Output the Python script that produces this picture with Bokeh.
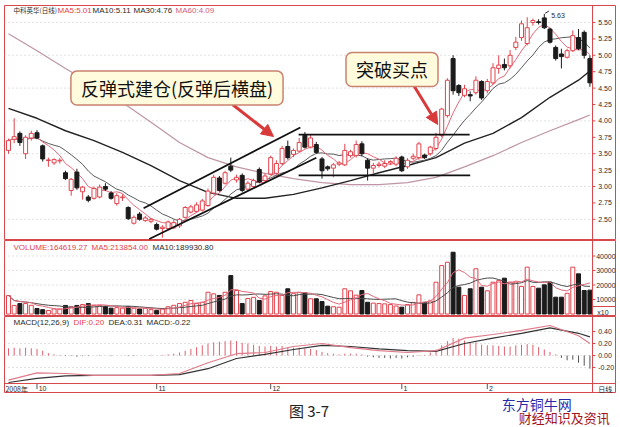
import numpy as np
import pandas as pd
from bokeh.plotting import figure
from bokeh.layouts import column
from bokeh.models import Range1d, ColumnDataSource, Label, Arrow, NormalHead, Span
from bokeh.core.properties import value
from bokeh.embed import file_html
from bokeh.resources import INLINE

# ---------------- daily bars: 中科英华, late Sep 2008 - Feb 2009 ----------------
opens = [3.55, 3.72, 3.81, 3.50, 3.74, 3.82, 3.62, 3.40, 3.36, 3.39,
         3.21, 2.94, 3.22, 2.92, 2.84, 2.82, 2.84, 3.00, 2.90, 2.74,
         2.83, 2.68, 2.44, 2.58, 2.48, 2.47, 2.42, 2.36, 2.36, 2.37,
         2.40, 2.53, 2.61, 2.62, 2.64, 2.71, 2.90, 3.13, 3.05, 3.31,
         3.10, 3.17, 2.96, 3.00, 3.26, 3.09, 3.19, 3.20, 3.35, 3.61,
         3.49, 3.54, 3.78, 3.60, 3.64, 3.42, 3.30, 3.28, 3.34, 3.33,
         3.47, 3.47, 3.65, 3.40, 3.28, 3.32, 3.31, 3.36, 3.34, 3.45,
         3.30, 3.43, 3.44, 3.48, 3.50, 3.58, 3.78, 4.08, 4.95, 4.54,
         4.39, 4.40, 4.43, 4.60, 4.46, 4.58, 4.80, 4.86, 4.84, 5.12,
         5.27, 5.18, 5.50, 5.51, 5.57, 5.40, 5.12, 5.02, 4.97, 5.07,
         5.27, 5.35, 4.95]
highs = [3.73, 4.04, 3.84, 3.78, 3.85, 3.86, 3.64, 3.44, 3.43, 3.43,
         3.24, 3.13, 3.27, 3.01, 2.87, 3.00, 3.03, 3.05, 2.93, 2.90,
         2.88, 2.70, 2.56, 2.61, 2.55, 2.52, 2.45, 2.41, 2.48, 2.49,
         2.52, 2.70, 2.72, 2.76, 2.81, 2.97, 3.18, 3.16, 3.24, 3.44,
         3.18, 3.20, 3.08, 3.12, 3.29, 3.20, 3.47, 3.40, 3.62, 3.70,
         3.58, 3.74, 3.83, 3.80, 3.68, 3.45, 3.32, 3.36, 3.39, 3.65,
         3.56, 3.70, 3.69, 3.43, 3.36, 3.38, 3.40, 3.40, 3.46, 3.47,
         3.43, 3.50, 3.68, 3.50, 3.62, 3.82, 4.20, 4.65, 5.00, 4.56,
         4.55, 4.45, 4.68, 4.62, 4.64, 4.88, 5.00, 4.95, 5.08, 5.28,
         5.53, 5.58, 5.56, 5.55, 5.63, 5.42, 5.15, 5.10, 5.10, 5.38,
         5.40, 5.38, 5.00]
lows = [3.50, 3.66, 3.62, 3.42, 3.70, 3.72, 3.38, 3.30, 3.33, 3.35,
        3.10, 2.86, 2.95, 2.80, 2.76, 2.80, 2.82, 2.93, 2.80, 2.71,
        2.78, 2.49, 2.42, 2.48, 2.46, 2.44, 2.33, 2.22, 2.33, 2.35,
        2.37, 2.51, 2.59, 2.60, 2.62, 2.69, 2.88, 2.92, 3.03, 3.22,
        3.06, 2.91, 2.93, 2.98, 3.05, 3.06, 3.17, 3.18, 3.32, 3.41,
        3.45, 3.52, 3.58, 3.58, 3.50, 3.12, 3.24, 3.14, 3.31, 3.31,
        3.44, 3.44, 3.46, 3.09, 3.20, 3.29, 3.28, 3.33, 3.31, 3.22,
        3.27, 3.40, 3.41, 3.42, 3.47, 3.55, 3.75, 4.05, 4.40, 4.38,
        4.36, 4.30, 4.40, 4.32, 4.42, 4.55, 4.72, 4.77, 4.80, 5.08,
        5.22, 5.15, 5.45, 5.47, 5.40, 5.18, 4.92, 4.80, 4.95, 5.05,
        5.08, 4.95, 4.52]
closes = [3.70, 3.76, 3.67, 3.75, 3.81, 3.74, 3.42, 3.40, 3.41, 3.40,
          3.12, 3.11, 2.98, 2.99, 2.79, 2.97, 2.99, 2.96, 2.82, 2.86,
          2.84, 2.51, 2.53, 2.50, 2.52, 2.50, 2.35, 2.38, 2.46, 2.45,
          2.50, 2.68, 2.69, 2.72, 2.78, 2.93, 3.14, 2.94, 3.21, 3.25,
          3.14, 2.94, 3.05, 3.09, 3.07, 3.16, 3.44, 3.35, 3.58, 3.44,
          3.55, 3.67, 3.60, 3.74, 3.52, 3.24, 3.27, 3.33, 3.36, 3.55,
          3.53, 3.64, 3.50, 3.28, 3.32, 3.34, 3.35, 3.38, 3.43, 3.24,
          3.40, 3.46, 3.65, 3.44, 3.60, 3.75, 4.18, 4.62, 4.46, 4.43,
          4.49, 4.38, 4.62, 4.35, 4.60, 4.81, 4.85, 4.81, 5.00, 5.20,
          5.48, 5.42, 5.53, 5.50, 5.42, 5.20, 4.95, 4.98, 5.07, 5.30,
          5.10, 5.00, 4.58]
# traded volume in lots
volumes = [127000, 59000, 72000, 72000, 60000, 38000, 30000, 24000, 35000, 35000,
           59000, 50000, 59000, 65000, 72000, 60000, 60000, 52000, 40000, 44000,
           40000, 50000, 40000, 35000, 40000, 30000, 25000, 35000, 50000, 60000,
           72000, 81000, 93000, 72000, 81000, 150000, 139000, 128000, 150000, 265000,
           162000, 72000, 107000, 115000, 93000, 125000, 155000, 150000, 128000, 174000,
           140000, 150000, 146000, 105000, 105000, 86000, 54000, 50000, 47000, 174000,
           160000, 130000, 162000, 81000, 75000, 72000, 70000, 65000, 55000, 47000,
           65000, 80000, 132000, 81000, 90000, 219000, 334000, 357000, 426000, 185000,
           128000, 174000, 312000, 185000, 160000, 219000, 230000, 247000, 220000, 220000,
           190000, 323000, 190000, 178038, 201000, 219000, 116000, 116000, 142650.73, 323000,
           277000, 162000, 164619.27]

# long moving averages (their windows reach back before the first bar shown)
ma_idx = [0, 5, 10, 15, 20, 25, 30, 35, 40, 45, 50, 55, 60, 65, 70, 75, 80, 85, 90, 95, 100, 102]
ma30 = [4.19, 4.04, 3.85, 3.70, 3.52, 3.32, 3.09, 2.91, 2.82, 2.82, 2.88,
        2.98, 3.09, 3.21, 3.32, 3.44, 3.66, 3.81, 4.05, 4.36, 4.62, 4.76]
ma60 = [5.33, 5.07, 4.80, 4.54, 4.28, 3.98, 3.67, 3.44, 3.30, 3.20, 3.12,
        3.06, 3.03, 3.03, 3.06, 3.14, 3.30, 3.47, 3.67, 3.85, 4.02, 4.09]

# MACD(12,26,9)
dif = [-0.41, -0.29, -0.30, -0.33, -0.33, -0.33, -0.30, -0.12, 0.03, 0.05, 0.15,
       0.20, 0.13, 0.08, 0.05, 0.08, 0.29, 0.35, 0.42, 0.50, 0.33, 0.20]
dea = [-0.45, -0.38, -0.34, -0.33, -0.33, -0.33, -0.32, -0.22, -0.05, 0.02, 0.10,
       0.17, 0.15, 0.11, 0.08, 0.07, 0.20, 0.29, 0.37, 0.46, 0.37, 0.31]
macd_hist = [0.12, 0.13, 0.12, 0.13, 0.12, 0.11, 0.08, 0.04, 0.02, 0.01,
             -0.01, -0.01, -0.02, -0.01, -0.01, 0.00, 0.01, 0.00, -0.01, 0.00,
             0.00, -0.01, -0.01, 0.00, 0.00, 0.01, 0.00, 0.01, 0.02, 0.03,
             0.05, 0.08, 0.11, 0.14, 0.17, 0.20, 0.22, 0.23, 0.24, 0.25,
             0.24, 0.21, 0.20, 0.18, 0.16, 0.15, 0.16, 0.15, 0.16, 0.14,
             0.13, 0.13, 0.12, 0.11, 0.09, 0.06, 0.04, 0.03, 0.02, 0.03,
             0.03, 0.03, 0.02, -0.02, -0.03, -0.04, -0.04, -0.05, -0.04, -0.05,
             -0.03, -0.02, 0.01, 0.01, 0.05, 0.10, 0.17, 0.24, 0.29, 0.28,
             0.25, 0.21, 0.22, 0.18, 0.17, 0.17, 0.16, 0.15, 0.15, 0.17,
             0.18, 0.19, 0.18, 0.14, 0.10, 0.06, 0.02, -0.04, -0.08, -0.07,
             -0.12, -0.17, -0.22]

price_ticks = [2.50, 2.75, 3.00, 3.25, 3.50, 3.75, 4.00, 4.25, 4.50, 4.75, 5.00, 5.25, 5.50]
price_grid = [2.5, 3.0, 3.5, 4.0, 4.5, 5.0, 5.5]
vol_ticks = [10000, 20000, 30000, 40000]          # axis shown in units of 10 lots
macd_ticks = [-0.20, 0.00, 0.20, 0.40]
month_start = [5, 26, 46, 69, 84]
month_labels = ["10", "11", "12", "1", "2"]

# hand-drawn study lines (bar index, price)
chan_up_x, chan_up_y = [23.7, 51.2], [2.67, 3.90]
chan_lo_x, chan_lo_y = [24.7, 54.0], [2.20, 3.44]
range_top_x, range_top_y = [50.9, 80.9], [3.79, 3.79]
range_bot_x, range_bot_y = [50.9, 81.0], [3.17, 3.17]

# ---------------- derived series ----------------
n = len(closes)
df = pd.DataFrame(dict(idx=np.arange(n), open=opens, high=highs, low=lows,
                       close=closes, vol=volumes))
df["top"] = df[["open", "close"]].max(axis=1)
df["bot"] = df[["open", "close"]].min(axis=1)
df["up"] = df["close"] >= df["open"]
df["vol10"] = df["vol"] / 10.0
ma5 = df["close"].rolling(5, min_periods=1).mean()
ma10 = df["close"].rolling(10, min_periods=1).mean()
vma5 = df["vol"].rolling(5, min_periods=1).mean()
vma10 = df["vol"].rolling(10, min_periods=1).mean()

up_src = ColumnDataSource(df[df["up"]])
dn_src = ColumnDataSource(df[~df["up"]])

RED = "#e2434c"
DARK = "#1b1b1b"
FRAME = "#d8474c"
GRID = "#c4c4c4"
TXT = "#2a2a2a"
LAT = value("Liberation Sans")
CJK = value("Noto Sans CJK SC")

XR = Range1d(-0.70, 106.49)
DIV = 102.46          # divider between plot area and scale column
LBL_X = 103.45


def panel(height, y_range, top=0):
    f = figure(width=620, height=height, x_range=XR, y_range=y_range,
               x_axis_type=None, y_axis_type=None, toolbar_location=None,
               output_backend="svg", min_border_left=4, min_border_right=5,
               min_border_top=top, min_border_bottom=0,
               outline_line_color=FRAME, outline_line_width=1,
               background_fill_color="white", border_fill_color="white")
    f.add_layout(Span(location=DIV, dimension="height", line_color=FRAME, line_width=1))
    return f


def header(f, xs, y, texts, colors, size="8px"):
    src = ColumnDataSource(dict(x=xs, y=[y] * len(xs), t=texts, c=colors))
    f.text(x="x", y="y", text="t", text_color="c", source=src, text_font=LAT,
           text_font_size=size, text_align="left", text_baseline="middle")


def scale(f, ticks, labels, x=LBL_X, size="7px"):
    k = len(ticks)
    f.segment(x0=[DIV] * k, y0=ticks, x1=[DIV + 0.5] * k, y1=ticks, line_color=FRAME)
    f.text(x=[x] * k, y=ticks, text=labels, text_font=LAT, text_font_size=size,
           text_color=TXT, text_align="left", text_baseline="middle")


def candles(f):
    # wicks: hollow up-bars keep the wick outside the body
    f.segment(x0="idx", y0="high", x1="idx", y1="top", source=up_src, line_color=RED)
    f.segment(x0="idx", y0="bot", x1="idx", y1="low", source=up_src, line_color=RED)
    f.segment(x0="idx", y0="high", x1="idx", y1="low", source=dn_src, line_color=DARK)
    f.vbar(x="idx", width=0.7, top="top", bottom="bot", source=up_src,
           fill_color="white", line_color=RED, line_width=1)
    f.vbar(x="idx", width=0.7, top="top", bottom="bot", source=dn_src,
           fill_color=DARK, line_color=DARK, line_width=1)
    doji = df[(df["top"] - df["bot"]) < 0.005]
    f.segment(x0=doji["idx"] - 0.35, y0=doji["close"], x1=doji["idx"] + 0.35,
              y1=doji["close"], line_color=RED)


# ---------------- price panel ----------------
pp = panel(240, Range1d(2.177, 5.759), top=5)
kg = len(price_grid)
pp.segment(x0=[XR.start] * kg, y0=price_grid, x1=[DIV] * kg, y1=price_grid,
           line_color=GRID, line_dash="1 3")
pp.line(ma_idx, ma60, line_color="#bf95a6", line_width=1.2)
pp.line(ma_idx, ma30, line_color="#222222", line_width=1.4)
pp.line(df["idx"], ma10, line_color="#5a5a5a", line_width=1)
pp.line(df["idx"], ma5, line_color="#e2687a", line_width=1)
candles(pp)

pp.line(chan_up_x, chan_up_y, line_color="#111111", line_width=1.7)
pp.line(chan_lo_x, chan_lo_y, line_color="#111111", line_width=1.7)
pp.line(range_top_x, range_top_y, line_color="#111111", line_width=1.7)
pp.line(range_bot_x, range_bot_y, line_color="#111111", line_width=1.7)

scale(pp, price_ticks, [f"{v:.2f}" for v in price_ticks])

# highest price marker
hi_i = int(np.argmax(highs))
pp.line([hi_i + 0.15, hi_i + 0.8], [highs[hi_i] + 0.01, highs[hi_i] + 0.045],
        line_color=TXT, line_width=1)
pp.text(x=[hi_i + 1.2], y=[highs[hi_i] - 0.02], text=[f"{highs[hi_i]:.2f}"],
        text_font=LAT, text_font_size="7px", text_color=TXT, text_baseline="middle")

pp.text(x=[0.88], y=[5.683], text=["中科英华(日线)"], text_font=CJK,
        text_font_size="6.5px", text_color=TXT, text_baseline="middle")
header(pp, [8.6, 14.74, 21.93, 29.3], 5.683,
       [f"MA5:{ma5.iloc[-1]:.2f}", f"MA10:{ma10.iloc[-1]:.2f}",
        f"MA30:{ma30[-1]:.2f}", f"MA60:{ma60[-1]:.2f}"],
       [RED, TXT, TXT, "#d2607c"])

ARROW = "#d83a3a"
for xs, ys, xe, ye in [(39.3, 4.25, 46.5, 3.762), (71.2, 4.524, 75.3, 3.945)]:
    pp.add_layout(Arrow(end=NormalHead(size=12, fill_color=ARROW, line_color=ARROW),
                        x_start=xs, y_start=ys, x_end=xe, y_end=ye,
                        line_color=ARROW, line_width=3))

for cx, cy, txt, pad in [(29.56, 4.50, "反弹式建仓(反弹后横盘)", (10, 4)),
                         (67.28, 4.784, "突破买点", (10, 4))]:
    pp.add_layout(Label(x=cx, y=cy, text=txt, text_align="center", text_baseline="middle",
                        text_font="Noto Sans CJK SC", text_font_size="18px",
                        text_color="#111111", background_fill_color="#fffbdc",
                        border_line_color="#c9826f", border_line_width=1.5,
                        border_radius=6, padding=pad))

# ---------------- volume panel ----------------
pv = panel(76, Range1d(-1724, 50690))
kv = len(vol_ticks)
pv.segment(x0=[XR.start] * kv, y0=vol_ticks, x1=[DIV] * kv, y1=vol_ticks,
           line_color=GRID, line_dash="1 3")
pv.vbar(x="idx", width=0.7, top="vol10", bottom=0, source=up_src,
        fill_color="white", line_color=RED)
pv.vbar(x="idx", width=0.7, top="vol10", bottom=0, source=dn_src,
        fill_color=DARK, line_color=DARK)
pv.line(df["idx"], vma10 / 10, line_color="#4a4a4a", line_width=1)
pv.line(df["idx"], vma5 / 10, line_color="#e2687a", line_width=1)
scale(pv, vol_ticks, [str(v) for v in vol_ticks], x=103.1)
pv.quad(left=[DIV], right=[XR.end], top=[5172], bottom=[-1724],
        fill_color=None, line_color=FRAME)
pv.text(x=[103.3], y=[1034], text=["x10"], text_font=LAT, text_font_size="7px",
        text_color=TXT, text_baseline="middle")
header(pv, [0.88, 14.56, 25.26], 45862,
       [f"VOLUME:{volumes[-1]:.2f}", f"MA5:{vma5.iloc[-1]:.2f}",
        f"MA10:{vma10.iloc[-1]:.2f}"],
       [RED, RED, TXT])

# ---------------- MACD panel + date strip ----------------
pm = panel(77, Range1d(-0.6333, 0.65))
km = len(macd_ticks)
pm.segment(x0=[XR.start] * km, y0=macd_ticks, x1=[DIV] * km, y1=macd_ticks,
           line_color=GRID, line_dash="1 3")
hist = np.array(macd_hist)
pos = hist >= 0
idx = np.arange(n)
pm.segment(x0=idx[pos], y0=np.zeros(pos.sum()), x1=idx[pos], y1=hist[pos],
           line_color="#e0606e", line_width=1)
pm.segment(x0=idx[~pos], y0=np.zeros((~pos).sum()), x1=idx[~pos], y1=hist[~pos],
           line_color="#555555", line_width=1)
pm.line(ma_idx, dea, line_color="#333333", line_width=1.2)
pm.line(ma_idx, dif, line_color="#e07c8a", line_width=1.2)
scale(pm, macd_ticks, [f"{v:.2f}" for v in macd_ticks])
header(pm, [0.88, 11.4, 17.54, 24.21], 0.55,
       ["MACD(12,26,9)", f"DIF:{dif[-1]:.2f}", f"DEA:{dea[-1]:.2f}",
        f"MACD:{macd_hist[-1]:.2f}"],
       [TXT, RED, TXT, TXT])

STRIP = -0.467
pm.add_layout(Span(location=STRIP, dimension="width", line_color=FRAME, line_width=1))
pm.segment(x0=month_start, y0=[STRIP] * len(month_start), x1=month_start,
           y1=[-0.56] * len(month_start), line_color="#555555")
pm.text(x=[m + 0.3 for m in month_start], y=[-0.55] * len(month_start), text=month_labels,
        text_font=LAT, text_font_size="7px", text_color=TXT, text_baseline="middle")
pm.text(x=[-0.53], y=[-0.55], text=["2008年"], text_font=CJK, text_font_size="7px",
        text_color=TXT, text_baseline="middle")
pm.text(x=[LBL_X], y=[-0.55], text=["日线"], text_font=CJK, text_font_size="7px",
        text_color=TXT, text_baseline="middle")

# ---------------- caption strip ----------------
pc = figure(width=620, height=34, x_range=Range1d(0, 620), y_range=Range1d(0, 34),
            x_axis_type=None, y_axis_type=None, toolbar_location=None,
            output_backend="svg", min_border=0, outline_line_color=None,
            border_fill_color="white", background_fill_color="white")
pc.text(x=[309], y=[17], text=["图 3-7"], text_font=CJK, text_font_size="15px",
        text_color="#222222", text_align="center", text_baseline="middle")
pc.text(x=[540], y=[24], text=["东方铜牛网"], text_font=CJK, text_font_size="14px",
        text_color="#2a2aa8", text_align="center", text_baseline="middle")
pc.text(x=[568], y=[10], text=["财经知识及资讯"], text_font=CJK, text_font_size="13px",
        text_color="#a3141c", text_align="center", text_baseline="middle")

layout = column(pp, pv, pm, pc, spacing=0)
open("out.html", "w").write(file_html(layout, INLINE))
